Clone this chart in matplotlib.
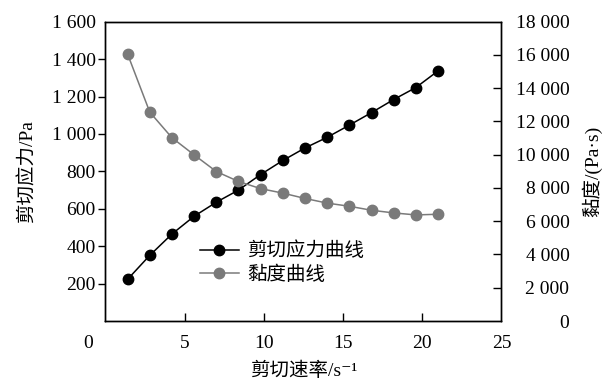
import matplotlib
matplotlib.use('Agg')
import matplotlib.pyplot as plt
import matplotlib.ticker as mticker
import matplotlib.transforms as mtransforms

plt.rcParams['font.family'] = ['Liberation Serif', 'Noto Sans CJK SC', 'DejaVu Serif']

# ── 数据 ── #
shear_rate = [1.4, 2.8, 4.2, 5.6, 7.0, 8.4, 9.8, 11.2, 12.6, 14.0, 15.4, 16.8, 18.2, 19.6, 21.0]
stress     = [223, 351, 465, 560, 635, 700, 783, 858, 925, 982, 1047, 1114, 1184, 1248, 1337]
viscosity  = [16050, 12560, 11020, 9990, 8990, 8390, 7960, 7690, 7370, 7090, 6900, 6660, 6500, 6380, 6420]

FS = 14
GRAY = '#7a7a7a'

def thousands(v, pos):
    return f'{int(v):,}'.replace(',', ' ')

fig = plt.figure(figsize=(6.13, 3.87), dpi=100)
ax = fig.add_axes([0.172, 0.1705, 0.646, 0.7735])
ax2 = ax.twinx()

l1, = ax.plot(shear_rate, stress, '-o', color='black', lw=1.1, ms=7.5, label='剪切应力曲线')
l2, = ax2.plot(shear_rate, viscosity, '-o', color=GRAY, mec=GRAY, lw=1.1, ms=7.5, label='黏度曲线')

ax.set_xlim(0, 25)
ax.set_ylim(0, 1600)
ax2.set_ylim(0, 18000)

ax.set_xticks([0, 5, 10, 15, 20, 25])
ax.set_yticks(range(0, 1601, 200))
ax2.set_yticks(range(0, 18001, 2000))
ax.yaxis.set_major_formatter(mticker.FuncFormatter(thousands))
ax2.yaxis.set_major_formatter(mticker.FuncFormatter(thousands))

ax.tick_params(axis='x', direction='in', length=6, width=1, pad=10, labelsize=FS)
ax.tick_params(axis='y', direction='out', length=5, width=1, pad=2, labelsize=FS)
ax2.tick_params(axis='y', direction='in', length=6, width=1, pad=49, labelsize=FS)
for t in ax2.get_yticklabels():
    t.set_horizontalalignment('right')

# 隐藏两端刻度线 / 左轴 0 标签
xt = ax.xaxis.get_major_ticks()
xt[0].tick1line.set_visible(False)
xt[-1].tick1line.set_visible(False)
yt = ax.yaxis.get_major_ticks()
yt[0].tick1line.set_visible(False)
yt[0].label1.set_visible(False)
yt[-1].tick1line.set_visible(False)
yt2 = ax2.yaxis.get_major_ticks()
yt2[0].tick2line.set_visible(False)
yt2[-1].tick2line.set_visible(False)
# "0" 标签左移
xt[0].label1.set_transform(xt[0].label1.get_transform() +
                           mtransforms.ScaledTranslation(-17 / 100, 0, fig.dpi_scale_trans))

for a in (ax, ax2):
    for s in a.spines.values():
        s.set_linewidth(1)

ax.set_xlabel('剪切速率/s⁻¹', fontsize=FS)
ax.set_ylabel('剪切应力/Pa', fontsize=FS)
ax2.set_ylabel('黏度/(Pa·s)', fontsize=FS)
ax.xaxis.set_label_coords(0.5, -0.167)
ax.yaxis.set_label_coords(-0.198, 0.5)
ax2.yaxis.set_label_coords(1.229, 0.5)
ax.xaxis.label.set_va('center')
ax.yaxis.label.set_va('center')
ax2.yaxis.label.set_va('center')

ax2.legend(handles=[l1, l2], loc='upper left', bbox_to_anchor=(0.238, 0.265),
           frameon=False, fontsize=FS, handlelength=2.0, handletextpad=0.45,
           labelspacing=0.25, borderpad=0, borderaxespad=0)

fig.savefig('out.png', dpi=100)
